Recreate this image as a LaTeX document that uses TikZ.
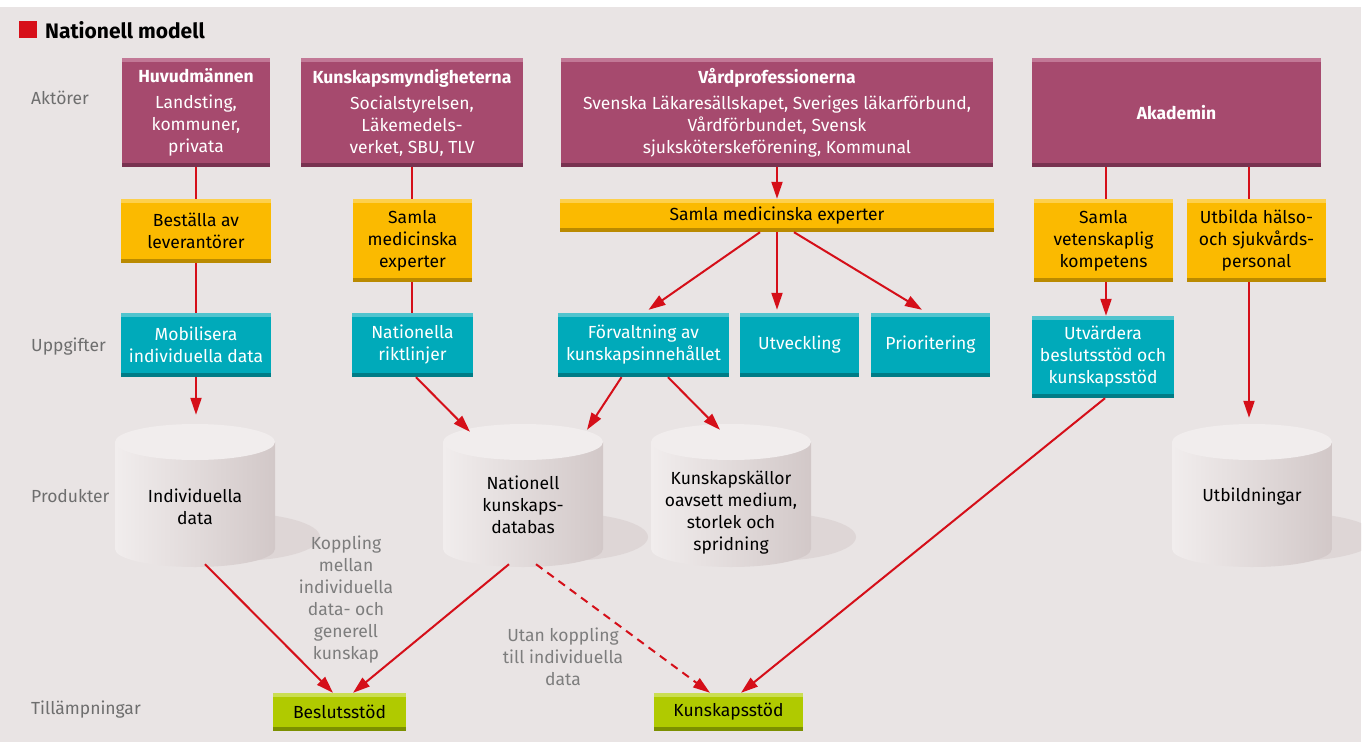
\documentclass[tikz,border=0pt]{standalone}
\usepackage{fontspec}
\setmainfont{Fira Sans}
\usetikzlibrary{arrows.meta,calc}
\definecolor{bg}{RGB}{233,228,228}
\definecolor{mag}{RGB}{166,74,110}
\definecolor{magT}{RGB}{194,120,150}
\definecolor{magB}{RGB}{120,50,80}
\definecolor{yel}{RGB}{251,186,0}
\definecolor{yelT}{RGB}{253,208,76}
\definecolor{yelB}{RGB}{186,138,0}
\definecolor{tea}{RGB}{0,170,186}
\definecolor{teaT}{RGB}{80,196,206}
\definecolor{teaB}{RGB}{0,124,134}
\definecolor{grn}{RGB}{176,202,0}
\definecolor{grnT}{RGB}{202,222,82}
\definecolor{grnB}{RGB}{124,144,0}
\definecolor{arr}{RGB}{213,15,25}
\definecolor{lbl}{RGB}{110,110,110}
\definecolor{notec}{RGB}{125,125,125}
\definecolor{cylL}{RGB}{241,237,237}
\definecolor{cylR}{RGB}{210,200,200}
\definecolor{cylTop}{RGB}{241,237,237}
\definecolor{shd}{RGB}{222,214,214}
\definecolor{titred}{RGB}{215,15,25}
\newcommand\bodyfont{\fontsize{17.5}{22}\selectfont}
\newcommand\drawcyl[1]{%
  \shade[left color=cylL, right color=cylR] (#1-80,442) -- (#1-80,549)
    arc[start angle=180, end angle=360, x radius=80pt, y radius=18pt] -- (#1+80,442) -- cycle;
  \fill[cylTop] (#1,442) ellipse [x radius=80pt, y radius=18pt];
}
\tikzset{
  bands/.style 2 args={path picture={
    \fill[#1] (path picture bounding box.north west) rectangle ([yshift=-4pt]path picture bounding box.north east);
    \fill[#2] (path picture bounding box.south west) rectangle ([yshift=4pt]path picture bounding box.south east);}},
  boxbase/.style={inner sep=0pt, align=center, font=\bodyfont},
  magbox/.style={boxbase, fill=mag, text=white, bands={magT}{magB}},
  yelbox/.style={boxbase, fill=yel, text=black, bands={yelT}{yelB}},
  teabox/.style={boxbase, fill=tea, text=white, bands={teaT}{teaB}},
  grnbox/.style={boxbase, fill=grn, text=black, bands={grnT}{grnB}},
  ln/.style={draw=arr, line width=2pt},
  ar/.style={ln, -{Triangle[length=17pt,width=11pt]}},
  dashar/.style={ar, dash pattern=on 8pt off 6pt},
  rowlbl/.style={anchor=west, text=lbl, font=\bodyfont, inner sep=0pt},
  note/.style={align=center, text=notec, font=\bodyfont, inner sep=0pt},
  cylbody/.style={inner sep=0pt, minimum width=160pt, minimum height=143pt},
  cyltext/.style={align=center, text=black, font=\bodyfont, inner sep=0pt},
}
\begin{document}
\begin{tikzpicture}[x=1pt, y=-1pt]
\useasboundingbox (0,0) rectangle (1365,742);
\fill[white] (0,0) rectangle (1365,742);
\fill[bg] (0,7) rectangle (1361,742);
% title
\fill[titred] (19,21) rectangle (37,38);
\node[anchor=west, inner sep=0pt, font=\bfseries\fontsize{21}{24}\selectfont] (title) at (45,30) {Nationell modell};
% row labels
\node[rowlbl] (l1) at (31,98) {Aktörer};
\node[rowlbl] (l2) at (31,347) {Uppgifter};
\node[rowlbl] (l3) at (31,496) {Produkter};
\node[rowlbl] (l4) at (31,710) {Tillämpningar};
% actors
\node[magbox, minimum width=148pt, minimum height=109pt] (huv) at (196,112.5)
  {{\bfseries Huvudmännen}\\[4pt]Landsting,\\kommuner,\\privata};
\node[magbox, minimum width=222pt, minimum height=109pt] (kun) at (412,112.5)
  {{\bfseries Kunskapsmyndigheterna}\\[4pt]Socialstyrelsen,\\Läkemedels-\\verket, SBU, TLV};
\node[magbox, minimum width=432pt, minimum height=109pt] (vard) at (777,112.5)
  {{\bfseries Vårdprofessionerna}\\[4pt]Svenska Läkaresällskapet, Sveriges läkarförbund,\\Vårdförbundet, Svensk\\sjuksköterskeförening, Kommunal};
\node[magbox, minimum width=289pt, minimum height=109pt] (aka) at (1176.5,112.5)
  {\bfseries Akademin};
% yellow
\node[yelbox, minimum width=150pt, minimum height=64pt] (best) at (196,231) {Beställa av\\leverantörer};
\node[yelbox, minimum width=119pt, minimum height=83pt] (samL) at (412.5,240.5) {Samla\\medicinska\\experter};
\node[yelbox, minimum width=434pt, minimum height=33pt] (samW) at (777,215.5) {Samla medicinska experter};
\node[yelbox, minimum width=139pt, minimum height=83pt] (samV) at (1103.5,240.5) {Samla\\vetenskaplig\\kompetens};
\node[yelbox, minimum width=139pt, minimum height=83pt] (utb) at (1256.5,240.5) {Utbilda hälso-\\och sjukvårds-\\personal};
% teal
\node[teabox, minimum width=150pt, minimum height=64pt] (mob) at (196,345) {Mobilisera\\individuella data};
\node[teabox, minimum width=121pt, minimum height=64pt] (nat) at (412.5,345) {Nationella\\riktlinjer};
\node[teabox, minimum width=171pt, minimum height=64pt] (forv) at (643.5,345) {Förvaltning av\\kunskapsinnehållet};
\node[teabox, minimum width=119pt, minimum height=64pt] (utv) at (799.5,345) {Utveckling};
\node[teabox, minimum width=119pt, minimum height=64pt] (prio) at (930.5,345) {Prioritering};
\node[teabox, minimum width=142pt, minimum height=82pt] (utvd) at (1103,357) {Utvärdera\\beslutsstöd och\\kunskapsstöd};
% cylinder shadows
\begin{scope}
\clip (0,7) rectangle (1361,742);
\fill[shd] (235,537) ellipse [x radius=85pt, y radius=24pt];
\fill[shd] (563,537) ellipse [x radius=85pt, y radius=24pt];
\fill[shd] (771,537) ellipse [x radius=85pt, y radius=24pt];
\fill[shd] (1292,537) ellipse [x radius=85pt, y radius=24pt];
\end{scope}
% cylinders
\drawcyl{195}
\drawcyl{523}
\drawcyl{731}
\drawcyl{1252}
\node[cylbody] (cylA) at (195,495.5) {};
\node[cylbody] (cylB) at (523,495.5) {};
\node[cylbody] (cylC) at (731,495.5) {};
\node[cylbody] (cylD) at (1252,495.5) {};
\node[cyltext] (tA) at (195,507) {Individuella\\data};
\node[cyltext] (tB) at (523,505) {Nationell\\kunskaps-\\databas};
\node[cyltext] (tC) at (731,513) {Kunskapskällor\\oavsett medium,\\storlek och\\spridning};
\node[cyltext] (tD) at (1252,497) {Utbildningar};
% applications
\node[grnbox, minimum width=133pt, minimum height=38pt] (besl) at (339.5,712) {Beslutsstöd};
\node[grnbox, minimum width=149pt, minimum height=38pt] (kstod) at (728.5,712) {Kunskapsstöd};
% notes
\node[note] (n1) at (346,600) {Koppling\\mellan\\individuella\\data- och\\generell\\kunskap};
\node[note] (n2) at (563,657) {Utan koppling\\till individuella\\data};
% connectors
\draw[ln] (huv.south) -- (best.north);
\draw[ln] (best.south) -- (mob.north);
\draw[ar] (mob.south) -- ($(cylA.north)+(1,-9)$);
\draw[ln] (kun.south) -- ([xshift=-0.5pt]samL.north);
\draw[ln] ([xshift=-0.5pt]samL.south) -- ([xshift=-0.5pt]nat.north);
\draw[ar] ([xshift=3.5pt]nat.south) -- ($(cylB.north)+(-53,8)$);
\draw[ar] (vard.south) -- (samW.north);
\draw[ar] ([xshift=-17pt]samW.south) -- ([xshift=5pt,yshift=3pt]forv.north);
\draw[ar] (samW.south) -- ([xshift=-22.5pt,yshift=3pt]utv.north);
\draw[ar] ([xshift=17pt]samW.south) -- ([xshift=-8.5pt,yshift=3pt]prio.north);
\draw[ar] ([xshift=-22pt]forv.south) -- ($(cylB.north)+(64,6)$);
\draw[ar] ([xshift=24.5pt]forv.south) -- ($(cylC.north)+(-11,6)$);
\draw[ln] ([xshift=-70.5pt]aka.south) -- ([xshift=2.5pt]samV.north);
\draw[ar] ([xshift=2.5pt]samV.south) -- ([xshift=3pt]utvd.north);
\draw[ln] ([xshift=72.5pt]aka.south) -- ([xshift=-7.5pt]utb.north);
\draw[ar] ([xshift=-7.5pt]utb.south) -- ($(cylD.north)+(-3,-6)$);
\draw[ar] ($(cylA.south)+(10,-3)$) -- ([xshift=-6.5pt]besl.north);
\draw[ar] ($(cylB.south)+(-14,-3)$) -- ([xshift=13.5pt]besl.north);
\draw[dashar] ($(cylB.south)+(13,-3)$) -- ([xshift=-18.5pt]kstod.north);
\draw[ar] ([xshift=2pt]utvd.south) -- ([xshift=12.5pt]kstod.north);
\end{tikzpicture}
\end{document}
